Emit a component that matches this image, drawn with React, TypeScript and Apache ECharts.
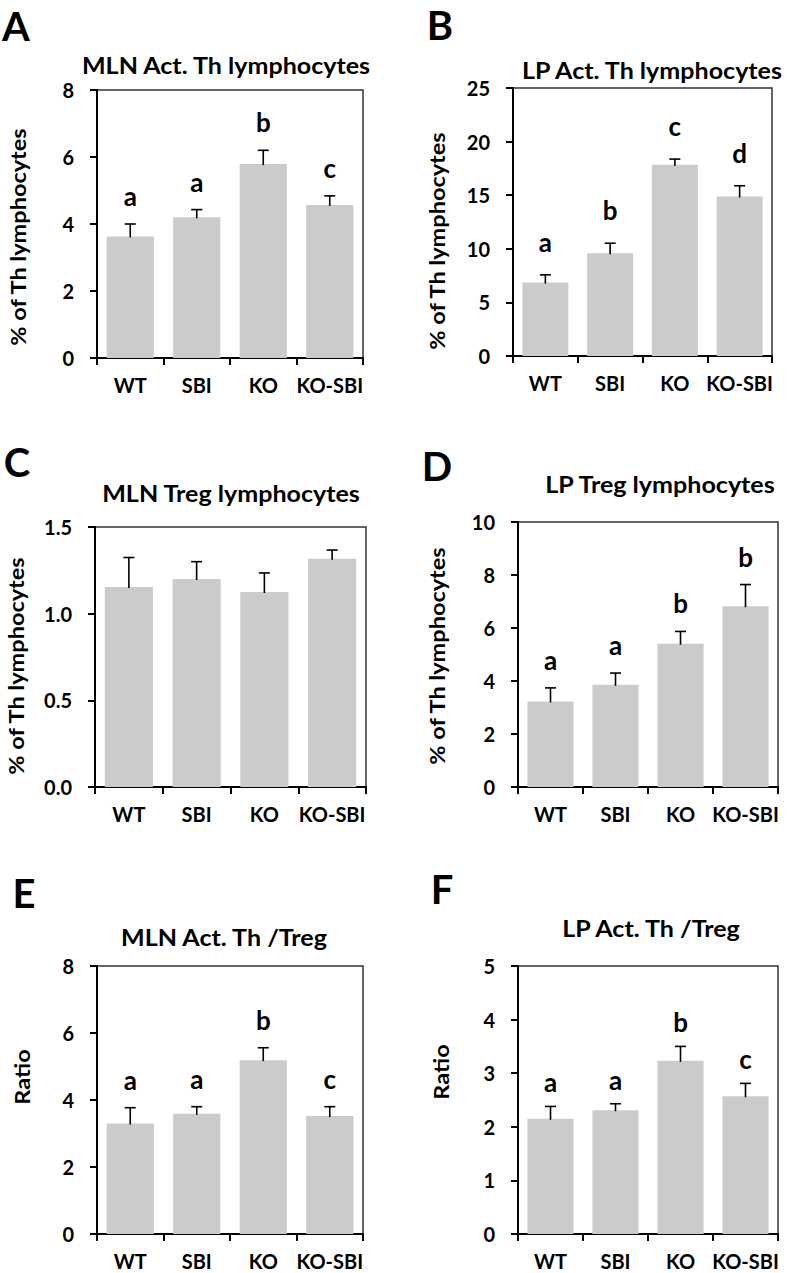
import React, { useEffect, useRef } from "react";
import * as echarts from "echarts";

const categories = ["WT", "SBI", "KO", "KO-SBI"];

const meanA = [3.63, 4.2, 5.79, 4.57];
const errA = [0.37, 0.23, 0.41, 0.27];
const lettersA = ["a", "a", "b", "c"];

const meanB = [6.85, 9.59, 17.84, 14.88];
const errB = [0.72, 0.93, 0.53, 1.0];
const lettersB = ["a", "b", "c", "d"];

const meanC = [1.154, 1.2, 1.125, 1.317];
const errC = [0.17, 0.1, 0.11, 0.05];
const lettersC = ["", "", "", ""];

const meanD = [3.23, 3.86, 5.41, 6.82];
const errD = [0.51, 0.44, 0.46, 0.82];
const lettersD = ["a", "a", "b", "b"];

const meanE = [3.3, 3.59, 5.19, 3.52];
const errE = [0.47, 0.21, 0.37, 0.28];
const lettersE = ["a", "a", "b", "c"];

const meanF = [2.15, 2.31, 3.23, 2.57];
const errF = [0.23, 0.12, 0.27, 0.24];
const lettersF = ["a", "a", "b", "c"];

const FONT = "Lato, 'Open Sans', sans-serif";

const panels = [
  { tag: "A", title: "MLN Act. Th lymphocytes", yName: "% of Th lymphocytes", mean: meanA, err: errA, letters: lettersA, max: 8, interval: 2, dec: 0,
    grid: { left: 97, top: 90, width: 266, height: 268 }, titlePos: [226, 65], tagPos: [16, 26], yNamePos: [18, 237], letterOff: 28 },
  { tag: "B", title: "LP Act. Th lymphocytes", yName: "% of Th lymphocytes", mean: meanB, err: errB, letters: lettersB, max: 25, interval: 5, dec: 0,
    grid: { left: 513, top: 88, width: 259, height: 268 }, titlePos: [652, 70], tagPos: [440, 25], yNamePos: [437, 241], letterOff: 33 },
  { tag: "C", title: "MLN Treg lymphocytes", yName: "% of Th lymphocytes", mean: meanC, err: errC, letters: lettersC, max: 1.5, interval: 0.5, dec: 1,
    grid: { left: 95, top: 527, width: 271, height: 260 }, titlePos: [231, 493], tagPos: [17, 462], yNamePos: [16, 666], letterOff: 28 },
  { tag: "D", title: "LP Treg lymphocytes", yName: "% of Th lymphocytes", mean: meanD, err: errD, letters: lettersD, max: 10, interval: 2, dec: 0,
    grid: { left: 518, top: 522, width: 260, height: 265 }, titlePos: [660, 484], tagPos: [437, 466], yNamePos: [437, 656], letterOff: 28 },
  { tag: "E", title: "MLN Act. Th /Treg", yName: "Ratio", mean: meanE, err: errE, letters: lettersE, max: 8, interval: 2, dec: 0,
    grid: { left: 97, top: 966, width: 266, height: 268 }, titlePos: [224, 937], tagPos: [24, 893], yNamePos: [22, 1077], letterOff: 28 },
  { tag: "F", title: "LP Act. Th /Treg", yName: "Ratio", mean: meanF, err: errF, letters: lettersF, max: 5, interval: 1, dec: 0,
    grid: { left: 518, top: 966, width: 260, height: 268 }, titlePos: [651, 928], tagPos: [442, 889], yNamePos: [441, 1072], letterOff: 24 },
];

export default function App() {
  const ref = useRef<HTMLDivElement>(null);
  useEffect(() => {
    document.body.style.margin = "0";
    if (!ref.current) return;
    const chart = echarts.init(ref.current, null, { renderer: "svg" });

    const grids: any[] = [];
    const xAxes: any[] = [];
    const yAxes: any[] = [];
    const series: any[] = [];
    const graphics: any[] = [];

    panels.forEach((p, i) => {
      grids.push({ ...p.grid, show: true, borderColor: "#333", borderWidth: 1.5, backgroundColor: "transparent" });
      xAxes.push({
        type: "category", gridIndex: i, data: categories,
        axisLine: { lineStyle: { color: "#000", width: 2 } },
        axisTick: { show: true, length: 7, lineStyle: { color: "#000", width: 2 } },
        axisLabel: { interval: 0, fontSize: 20, fontWeight: "bold", fontFamily: FONT, color: "#000", margin: 17 },
      });
      yAxes.push({
        type: "value", gridIndex: i, min: 0, max: p.max, interval: p.interval,
        axisLine: { show: true, lineStyle: { color: "#000", width: 2 } },
        axisTick: { show: true, length: 7, lineStyle: { color: "#000", width: 2 } },
        splitLine: { show: false },
        axisLabel: { fontSize: 20, fontWeight: "bold", fontFamily: FONT, color: "#000", margin: 23,
          formatter: (v: number) => v.toFixed(p.dec) },
      });
      series.push({
        type: "bar", xAxisIndex: i, yAxisIndex: i, data: p.mean, barWidth: "71%",
        itemStyle: { color: "#cbcbcb" }, silent: true,
      });
      const letters = p.letters;
      const off = p.letterOff;
      series.push({
        type: "custom", xAxisIndex: i, yAxisIndex: i, z: 5, silent: true,
        data: p.mean.map((m, k) => [k, m, p.err[k]]),
        renderItem: (params: any, api: any) => {
          const k = api.value(0);
          const m = api.value(1);
          const e = api.value(2);
          const base = api.coord([k, m]);
          const top = api.coord([k, m + e]);
          const children: any[] = [
            { type: "line", shape: { x1: top[0], y1: base[1] + 1, x2: top[0], y2: top[1] }, style: { stroke: "#000", lineWidth: 1.6 } },
            { type: "line", shape: { x1: top[0] - 5.5, y1: top[1], x2: top[0] + 5.5, y2: top[1] }, style: { stroke: "#000", lineWidth: 1.6 } },
          ];
          const lt = letters[params.dataIndex];
          if (lt) {
            children.push({
              type: "text", x: top[0], y: top[1] - off,
              style: { text: lt, fontSize: 26, fontWeight: "bold", fontFamily: FONT, fill: "#000", align: "center", verticalAlign: "middle" },
            });
          }
          return { type: "group", children };
        },
      });
      graphics.push({
        type: "text", x: p.titlePos[0], y: p.titlePos[1], scaleX: 1.09,
        style: { text: p.title, fontSize: 23, fontWeight: "bold", fontFamily: FONT, fill: "#000", align: "center", verticalAlign: "middle" },
      });
      graphics.push({
        type: "text", x: p.tagPos[0], y: p.tagPos[1],
        style: { text: p.tag, fontSize: 40, fontWeight: "bold", fontFamily: FONT, fill: "#000", align: "center", verticalAlign: "middle" },
      });
      graphics.push({
        type: "text", x: p.yNamePos[0], y: p.yNamePos[1], rotation: Math.PI / 2, scaleX: 1.12,
        style: { text: p.yName, fontSize: 21, fontWeight: "bold", fontFamily: FONT, fill: "#000", align: "center", verticalAlign: "middle" },
      });
    });

    chart.setOption({
      animation: false,
      backgroundColor: "#fff",
      grid: grids,
      xAxis: xAxes,
      yAxis: yAxes,
      series,
      graphic: graphics,
    });
    return () => chart.dispose();
  }, []);
  return <div ref={ref} style={{ width: 788, height: 1273 }} />;
}
